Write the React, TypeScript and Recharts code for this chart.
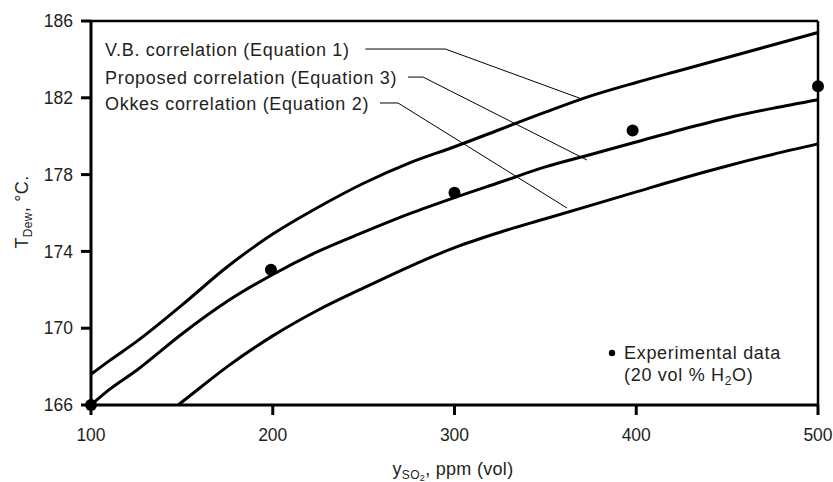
import React from 'react';
import { ComposedChart, Line, Scatter, XAxis, YAxis, ReferenceLine, Customized } from 'recharts';

const ppmVB = [100, 110, 125, 150, 175, 200, 225, 250, 275, 300, 325, 350, 375, 400, 425, 450, 475, 500];
const tempVB = [167.6, 168.3, 169.3, 171.2, 173.2, 174.9, 176.3, 177.55, 178.6, 179.45, 180.35, 181.25, 182.1, 182.8, 183.45, 184.1, 184.75, 185.4];

const ppmProposed = [100, 110, 125, 150, 175, 200, 225, 250, 275, 300, 325, 350, 375, 400, 425, 450, 475, 500];
const tempProposed = [166.0, 166.8, 167.8, 169.7, 171.4, 172.8, 174.0, 175.0, 175.95, 176.8, 177.6, 178.4, 179.05, 179.7, 180.35, 180.95, 181.45, 181.9];

const ppmOkkes = [148, 160, 175, 200, 225, 250, 275, 300, 325, 350, 375, 400, 425, 450, 475, 500];
const tempOkkes = [166.0, 166.9, 168.0, 169.6, 170.95, 172.1, 173.2, 174.2, 175.0, 175.7, 176.4, 177.1, 177.8, 178.45, 179.05, 179.6];

const ppmExperimental = [100, 199, 300, 398, 500];
const tempExperimental = [166.0, 173.05, 177.05, 180.3, 182.6];

const xTicks = [100, 200, 300, 400, 500];
const yTicks = [166, 170, 174, 178, 182, 186];

const seriesLabels = [
  'V.B. correlation (Equation 1)',
  'Proposed correlation (Equation 3)',
  'Okkes correlation (Equation 2)',
];

// leader lines: [labelStart, labelBend, curvePoint] in data coords
const leaderVB = [{ x: 251, y: 184.54 }, { x: 295, y: 184.54 }, { x: 370, y: 181.94 }];
const leaderProposed = [{ x: 274.4, y: 183.08 }, { x: 282.7, y: 183.08 }, { x: 372.9, y: 178.76 }];
const leaderOkkes = [{ x: 259, y: 181.73 }, { x: 268.9, y: 181.73 }, { x: 361.9, y: 176.26 }];

const zip = (xs: number[], ys: number[]) => xs.map((x, i) => ({ x, y: ys[i] }));

const vbData = zip(ppmVB, tempVB);
const proposedData = zip(ppmProposed, tempProposed);
const okkesData = zip(ppmOkkes, tempOkkes);
const expData = zip(ppmExperimental, tempExperimental);

const FONT = '"Liberation Sans", Arial, Helvetica, sans-serif';
const TEXT = '#231f20';
const LS = 0.7;

const Annotations = () => (
  <g fontFamily={FONT} fill={TEXT}>
    <text x={105} y={56} fontSize={18} letterSpacing={LS}>{seriesLabels[0]}</text>
    <text x={105} y={84} fontSize={18} letterSpacing={LS}>{seriesLabels[1]}</text>
    <text x={105} y={110} fontSize={18} letterSpacing={LS}>{seriesLabels[2]}</text>
    <circle cx={612} cy={353} r={3.2} fill="#000" />
    <text x={624} y={359} fontSize={18} letterSpacing={LS}>Experimental data</text>
    <text x={624} y={381} fontSize={18} letterSpacing={LS}>
      (20 vol % H
      <tspan fontSize={12} dy={4}>2</tspan>
      <tspan fontSize={18} dy={-4}>O)</tspan>
    </text>
    <text x={453} y={475} fontSize={18} textAnchor="middle" letterSpacing={0.3}>
      y
      <tspan fontSize={12} dy={4}>SO</tspan>
      <tspan fontSize={9} dy={2}>2</tspan>
      <tspan fontSize={18} dy={-6}>, ppm (vol)</tspan>
    </text>
    <text x={28} y={212} fontSize={18} textAnchor="middle" letterSpacing={0.3} transform="rotate(-90 28 212)">
      T
      <tspan fontSize={12} dy={4}>Dew</tspan>
      <tspan fontSize={18} dy={-4}>, °C.</tspan>
    </text>
  </g>
);

export default function App() {
  return (
    <div style={{ position: 'absolute', left: 0, top: 0, background: '#fff' }}>
      <ComposedChart
        width={833}
        height={482}
        margin={{ top: 21, right: 15, bottom: 0, left: 0 }}
      >
        <XAxis
          type="number"
          dataKey="x"
          domain={[100, 500]}
          ticks={xTicks}
          tickSize={10}
          tickMargin={14}
          height={77}
          axisLine={{ stroke: '#000', strokeWidth: 3 }}
          tickLine={{ stroke: '#000', strokeWidth: 3 }}
          tick={{ fill: TEXT, fontSize: 17.5, fontFamily: FONT }}
          allowDuplicatedCategory={false}
        />
        <YAxis
          type="number"
          dataKey="y"
          domain={[166, 186]}
          ticks={yTicks}
          tickSize={10}
          tickMargin={8}
          width={91}
          axisLine={{ stroke: '#000', strokeWidth: 3 }}
          tickLine={{ stroke: '#000', strokeWidth: 3 }}
          tick={{ fill: TEXT, fontSize: 17.5, fontFamily: FONT }}
        />
        <ReferenceLine y={186} stroke="#000" strokeWidth={2.5} />
        <ReferenceLine x={500} stroke="#000" strokeWidth={2.5} />
        <ReferenceLine segment={[leaderVB[0], leaderVB[1]]} stroke="#000" strokeWidth={1} />
        <ReferenceLine segment={[leaderVB[1], leaderVB[2]]} stroke="#000" strokeWidth={1} />
        <ReferenceLine segment={[leaderProposed[0], leaderProposed[1]]} stroke="#000" strokeWidth={1} />
        <ReferenceLine segment={[leaderProposed[1], leaderProposed[2]]} stroke="#000" strokeWidth={1} />
        <ReferenceLine segment={[leaderOkkes[0], leaderOkkes[1]]} stroke="#000" strokeWidth={1} />
        <ReferenceLine segment={[leaderOkkes[1], leaderOkkes[2]]} stroke="#000" strokeWidth={1} />
        <Line data={vbData} dataKey="y" type="monotone" stroke="#000" strokeWidth={3} dot={false} isAnimationActive={false} />
        <Line data={proposedData} dataKey="y" type="monotone" stroke="#000" strokeWidth={3} dot={false} isAnimationActive={false} />
        <Line data={okkesData} dataKey="y" type="monotone" stroke="#000" strokeWidth={3} dot={false} isAnimationActive={false} />
        <Scatter
          data={expData}
          dataKey="y"
          fill="#000"
          isAnimationActive={false}
          shape={(p: any) => <circle cx={p.cx} cy={p.cy} r={6} fill="#000" />}
        />
        <Customized component={<Annotations />} />
      </ComposedChart>
    </div>
  );
}
